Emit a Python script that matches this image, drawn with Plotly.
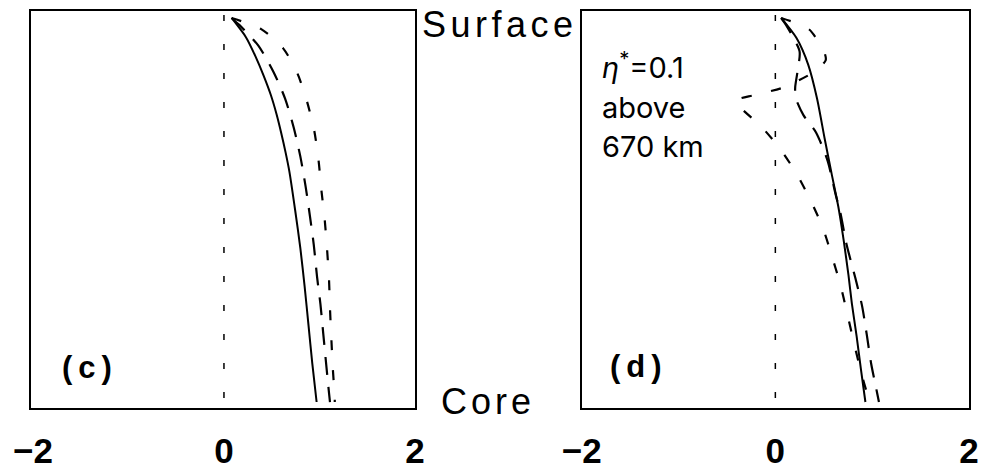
import plotly.graph_objects as go

# Normalised depth: 0 = surface, 1 = core-mantle boundary
# ---- panel (c) ----
C_SOLID_DEPTH = [0, 0.05, 0.10, 0.15, 0.20, 0.25, 0.30, 0.35, 0.40, 0.50, 0.60, 0.70,
                 0.80, 0.90, 1.0]
C_SOLID = [0.08, 0.23, 0.33, 0.415, 0.49, 0.55, 0.60, 0.645, 0.685, 0.745, 0.80, 0.845,
           0.885, 0.925, 0.97]

C_LONG_DEPTH = [0, 0.018, 0.072, 0.141, 0.210, 0.285, 0.361, 0.439, 0.516, 0.590,
                0.675, 0.745, 0.823, 0.901, 0.977, 1.0]
C_LONG = [0.08, 0.16, 0.36, 0.52, 0.64, 0.73, 0.80, 0.855, 0.90, 0.94,
          0.975, 1.01, 1.04, 1.07, 1.10, 1.11]

C_SHORT_DEPTH = [0, 0.029, 0.079, 0.145, 0.218, 0.293, 0.370, 0.448, 0.526, 0.604,
                 0.682, 0.756, 0.839, 0.914, 0.990, 1.0]
C_SHORT = [0.08, 0.39, 0.62, 0.77, 0.87, 0.945, 0.99, 1.02, 1.055, 1.08,
           1.10, 1.11, 1.125, 1.14, 1.16, 1.16]

# ---- panel (d) ----
D_SOLID_DEPTH = [0, 0.053, 0.122, 0.209, 0.315, 0.404, 0.491, 0.578, 0.669, 0.743,
                 0.830, 0.917, 1.0]
D_SOLID = [0.06, 0.22, 0.34, 0.43, 0.51, 0.58, 0.65, 0.705, 0.755, 0.79,
           0.84, 0.885, 0.93]

D_LONG_DEPTH = [0, 0.018, 0.087, 0.130, 0.180, 0.208, 0.253, 0.298, 0.372, 0.457,
                0.505, 0.589, 0.676, 0.749, 0.826, 0.901, 0.975, 1.0]
D_LONG = [0.06, 0.11, 0.25, 0.235, 0.205, 0.21, 0.29, 0.42, 0.54, 0.62,
          0.67, 0.735, 0.825, 0.895, 0.945, 0.99, 1.05, 1.07]

D_SHORT_DEPTH = [0, 0.030, 0.092, 0.110, 0.128, 0.148, 0.182, 0.201, 0.216, 0.284,
                 0.341, 0.406, 0.473, 0.546, 0.617, 0.693, 0.767, 0.844, 0.917,
                 0.988, 1.0]
D_SHORT = [0.06, 0.35, 0.51, 0.52, 0.46, 0.35, 0.07, -0.22, -0.41, -0.14,
           0.05, 0.22, 0.36, 0.49, 0.58, 0.67, 0.74, 0.81, 0.88, 0.96, 0.98]

# reference line at zero
ZERO_X = [0, 0]
ZERO_DEPTH = [-0.008, 1.016]

TICK_VALS = [-2, 0, 2]

W, H = 985, 476
INK = "black"

fig = go.Figure()


def add_panel(xa, ya, solid, long_, short):
    fig.add_trace(go.Scatter(x=ZERO_X, y=ZERO_DEPTH, xaxis=xa, yaxis=ya, mode="lines",
                             line=dict(color=INK, width=1.5, dash="6px,23px")))
    for (vals, depth), width, dash in [
        (short, 2.2, "10px,20px"),
        (long_, 2.2, "18px,12px"),
        (solid, 2.0, "solid"),
    ]:
        fig.add_trace(go.Scatter(x=vals, y=depth, xaxis=xa, yaxis=ya, mode="lines",
                                 line=dict(color=INK, width=width, dash=dash,
                                           shape="spline", smoothing=0.7)))


add_panel("x", "y", (C_SOLID, C_SOLID_DEPTH), (C_LONG, C_LONG_DEPTH), (C_SHORT, C_SHORT_DEPTH))
add_panel("x2", "y2", (D_SOLID, D_SOLID_DEPTH), (D_LONG, D_LONG_DEPTH), (D_SHORT, D_SHORT_DEPTH))

tick_font = dict(family="Liberation Sans", size=35, color=INK, weight="bold")
xcommon = dict(showline=True, mirror=True, linecolor=INK, linewidth=1.5,
               showgrid=False, zeroline=False, ticks="", tickmode="array",
               tickvals=TICK_VALS, tickfont=tick_font, ticklabelstandoff=11,
               automargin=False)
ycommon = dict(showline=True, mirror=True, linecolor=INK, linewidth=1.5,
               showgrid=False, zeroline=False, ticks="", showticklabels=False,
               range=[1.0156, -0.0182], domain=[68 / H, 465 / H], automargin=False)

fig.update_layout(
    width=W, height=H, margin=dict(l=0, r=0, t=0, b=0, autoexpand=False),
    paper_bgcolor="white", plot_bgcolor="white", showlegend=False,
    xaxis=dict(domain=[31 / W, 415 / W], range=[-2.02, 2.0], **xcommon),
    xaxis2=dict(domain=[581.7 / W, 969 / W], range=[-2, 2], anchor="y2", **xcommon),
    yaxis=dict(anchor="x", **ycommon),
    yaxis2=dict(anchor="x2", **ycommon),
)

label_font = dict(family="Liberation Sans", size=36, color=INK)
fig.add_annotation(x=500 / W, y=1 - 24 / H, xref="paper", yref="paper",
                   text="<span style='letter-spacing:4.5px'>Surface</span>",
                   showarrow=False, font=label_font, xanchor="center", yanchor="middle")
fig.add_annotation(x=488 / W, y=1 - 401 / H, xref="paper", yref="paper",
                   text="<span style='letter-spacing:4px'>Core</span>",
                   showarrow=False, font=label_font, xanchor="center", yanchor="middle")

panel_font = dict(family="Liberation Sans", size=31, color=INK, weight="bold")
fig.add_annotation(x=90 / W, y=1 - 367 / H, xref="paper", yref="paper",
                   text="<span style='letter-spacing:6px'>(c)</span>",
                   showarrow=False, font=panel_font, xanchor="center", yanchor="middle")
fig.add_annotation(x=639 / W, y=1 - 366 / H, xref="paper", yref="paper",
                   text="<span style='letter-spacing:6px'>(d)</span>",
                   showarrow=False, font=panel_font, xanchor="center", yanchor="middle")

note_font = dict(family="Inter", size=29, color=INK)
for txt, py in [("<i>η</i><sup>*</sup>=0.1", 66), ("above", 108), ("670 km", 146)]:
    fig.add_annotation(x=600 / W, y=1 - py / H, xref="paper", yref="paper", text=txt,
                       showarrow=False, font=note_font, xanchor="left", yanchor="middle")

fig.write_html("out.html")
